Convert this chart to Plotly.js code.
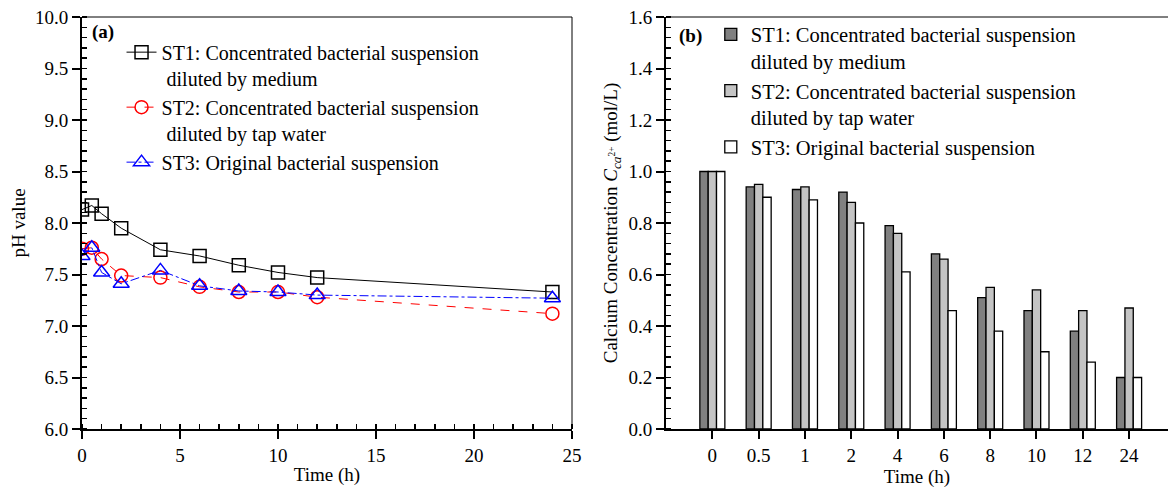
<!DOCTYPE html>
<html>
<head>
<meta charset="utf-8">
<script src="https://cdn.plot.ly/plotly-3.0.1.min.js"></script>
<style>html,body{margin:0;padding:0;background:#fff;}#chart{width:1171px;height:491px;}</style>
</head>
<body>
<div id="chart"></div>
<script>
// ---- Data: panel (a) pH ----
const timeH = [0, 0.5, 1, 2, 4, 6, 8, 10, 12, 24];
const phST1 = [8.13, 8.17, 8.09, 7.95, 7.74, 7.68, 7.59, 7.52, 7.47, 7.33];
const phST2 = [7.75, 7.76, 7.65, 7.49, 7.47, 7.38, 7.33, 7.33, 7.28, 7.12];
const phST3 = [7.68, 7.76, 7.52, 7.41, 7.54, 7.39, 7.34, 7.33, 7.30, 7.27];

// ---- Data: panel (b) calcium concentration ----
const timeCats = ['0', '0.5', '1', '2', '4', '6', '8', '10', '12', '24'];
const caST1 = [1.00, 0.94, 0.93, 0.92, 0.79, 0.68, 0.51, 0.46, 0.38, 0.20];
const caST2 = [1.00, 0.95, 0.94, 0.88, 0.76, 0.66, 0.55, 0.54, 0.46, 0.47];
const caST3 = [1.00, 0.90, 0.89, 0.80, 0.61, 0.46, 0.38, 0.30, 0.26, 0.20];

const names = [
  'ST1: Concentrated bacterial suspension<br>&nbsp;diluted by medium',
  'ST2: Concentrated bacterial suspension<br>&nbsp;diluted by tap water',
  'ST3: Original bacterial suspension'
];
const namesB = [
  'ST1: Concentrated bacterial suspension<br>diluted by medium',
  'ST2: Concentrated bacterial suspension<br>diluted by tap water',
  'ST3: Original bacterial suspension'
];

const FONT = 'Liberation Serif, Times New Roman, serif';

const traces = [
  {x: timeH, y: phST1, name: names[0], type: 'scatter', mode: 'lines+markers', xaxis: 'x', yaxis: 'y',
   line: {color: '#000000', width: 1, dash: 'solid'},
   marker: {symbol: 'square-open', size: 13, color: '#000000', line: {width: 1.5, color: '#000000'}}},
  {x: timeH, y: phST2, name: names[1], type: 'scatter', mode: 'lines+markers', xaxis: 'x', yaxis: 'y',
   line: {color: '#ff0000', width: 1, dash: 'dash'},
   marker: {symbol: 'circle-open', size: 13, color: '#ff0000', line: {width: 1.5, color: '#ff0000'}}},
  {x: timeH, y: phST3, name: names[2], type: 'scatter', mode: 'lines+markers', xaxis: 'x', yaxis: 'y',
   line: {color: '#0000ff', width: 1, dash: 'dashdot'},
   marker: {symbol: 'triangle-up-open', size: 14, color: '#0000ff', line: {width: 1.5, color: '#0000ff'}}},
  {x: timeCats, y: caST1, name: namesB[0], type: 'bar', xaxis: 'x2', yaxis: 'y2', legend: 'legend2',
   marker: {color: '#808080', line: {color: '#000000', width: 1.3}}},
  {x: timeCats, y: caST2, name: namesB[1], type: 'bar', xaxis: 'x2', yaxis: 'y2', legend: 'legend2',
   marker: {color: '#c4c4c4', line: {color: '#000000', width: 1.3}}},
  {x: timeCats, y: caST3, name: namesB[2], type: 'bar', xaxis: 'x2', yaxis: 'y2', legend: 'legend2',
   marker: {color: '#ffffff', line: {color: '#000000', width: 1.3}}}
];

const tickFont = {family: FONT, size: 19, color: '#000'};
const titleFont = {family: FONT, size: 19, color: '#000'};

const layout = {
  width: 1171, height: 491,
  margin: {l: 82, r: 3, t: 17, b: 62},
  paper_bgcolor: '#ffffff', plot_bgcolor: '#ffffff',
  font: {family: FONT, size: 19, color: '#000'},
  barmode: 'group', bargap: 0.46, bargroupgap: 0,
  showlegend: true,
  xaxis: {domain: [0, 0.4512], anchor: 'y', range: [0, 25], dtick: 5, tick0: 0,
    showgrid: false, zeroline: false, showline: true, linecolor: '#000', linewidth: 2,
    ticks: 'outside', ticklen: 8, tickwidth: 2, tickcolor: '#000',
    minor: {dtick: 1, ticks: 'inside', ticklen: 5, tickwidth: 1.5, tickcolor: '#000', showgrid: false},
    tickfont: tickFont, automargin: false,
    title: {text: 'Time (h)', font: titleFont, standoff: 3}},
  yaxis: {domain: [0, 1], anchor: 'x', range: [6, 10], dtick: 0.5, tick0: 6, tickformat: '.1f',
    showgrid: false, zeroline: false, showline: true, linecolor: '#000', linewidth: 2,
    ticks: 'outside', ticklen: 8, tickwidth: 2, tickcolor: '#000',
    minor: {dtick: 0.1, ticks: 'inside', ticklen: 5, tickwidth: 1.5, tickcolor: '#000', showgrid: false},
    tickfont: tickFont, automargin: false,
    title: {text: 'pH value', font: titleFont, standoff: 4}},
  xaxis3: {overlaying: 'x', anchor: 'y', domain: [0, 0.4512], range: [0, 25], dtick: 5, tick0: 0,
    showgrid: false, zeroline: false, showline: false, showticklabels: false,
    ticks: 'inside', ticklen: 8, tickwidth: 2, tickcolor: '#000'},
  yaxis3: {overlaying: 'y', anchor: 'x', range: [6, 10], dtick: 0.5, tick0: 6,
    showgrid: false, zeroline: false, showline: false, showticklabels: false,
    ticks: 'inside', ticklen: 8, tickwidth: 2, tickcolor: '#000'},

  xaxis2: {domain: [0.5378, 1], anchor: 'y2', type: 'category', categoryorder: 'array', categoryarray: timeCats,
    range: [-1, 9.84],
    showgrid: false, zeroline: false, showline: true, linecolor: '#000', linewidth: 2,
    ticks: 'outside', ticklen: 8, tickwidth: 2, tickcolor: '#000',
    tickfont: tickFont, automargin: false,
    title: {text: 'Time (h)', font: titleFont, standoff: 4}},
  yaxis2: {domain: [0, 1], anchor: 'x2', range: [0, 1.6], dtick: 0.2, tick0: 0, tickformat: '.1f',
    showgrid: false, zeroline: false, showline: true, linecolor: '#000', linewidth: 2,
    ticks: 'outside', ticklen: 8, tickwidth: 2, tickcolor: '#000',
    minor: {dtick: 0.04, ticks: 'inside', ticklen: 5, tickwidth: 1.5, tickcolor: '#000', showgrid: false},
    tickfont: tickFont, automargin: false,
    title: {text: 'Calcium Concentration <i>C</i><sub><i>ca</i><sup>2+</sup></sub> (mol/L)', font: titleFont, standoff: 6}},
  xaxis4: {overlaying: 'x2', anchor: 'y2', domain: [0.5378, 1], range: [-1, 9.84],
    tickmode: 'array', tickvals: [0, 1, 2, 3, 4, 5, 6, 7, 8, 9],
    showgrid: false, zeroline: false, showline: false, showticklabels: false,
    ticks: 'inside', ticklen: 8, tickwidth: 2, tickcolor: '#000'},
  yaxis4: {overlaying: 'y2', anchor: 'x2', range: [0, 1.6], dtick: 0.2, tick0: 0,
    showgrid: false, zeroline: false, showline: false, showticklabels: false,
    ticks: 'inside', ticklen: 8, tickwidth: 2, tickcolor: '#000'},

  legend: {x: 0.0364, xanchor: 'left', y: 0.962, yanchor: 'top', xref: 'paper', yref: 'paper',
    bgcolor: 'rgba(0,0,0,0)', borderwidth: 0, valign: 'top',
    font: {family: FONT, size: 20, color: '#000'}},
  legend2: {x: 0.579, xanchor: 'left', y: 1.006, yanchor: 'top', xref: 'paper', yref: 'paper',
    bgcolor: 'rgba(0,0,0,0)', borderwidth: 0, valign: 'top',
    font: {family: FONT, size: 20.5, color: '#000'}},

  annotations: [
    {text: '<b>(a)</b>', xref: 'paper', yref: 'paper', x: 0.0074, y: 0.9636, xanchor: 'left', yanchor: 'middle',
     showarrow: false, font: {family: FONT, size: 19, color: '#000'}},
    {text: '<b>(b)</b>', xref: 'paper', yref: 'paper', x: 0.5480, y: 0.953, xanchor: 'left', yanchor: 'middle',
     showarrow: false, font: {family: FONT, size: 19, color: '#000'}}
  ],
  shapes: [
    {type: 'line', xref: 'x domain', yref: 'y domain', x0: 0, x1: 1, y0: 1, y1: 1, line: {color: '#000', width: 1}},
    {type: 'line', xref: 'x domain', yref: 'y domain', x0: 1, x1: 1, y0: 0, y1: 1, line: {color: '#000', width: 1}},
    {type: 'line', xref: 'x2 domain', yref: 'y2 domain', x0: 0, x1: 1, y0: 1, y1: 1, line: {color: '#000', width: 1}}
  ]
};

Plotly.newPlot('chart', traces, layout, {displayModeBar: false, staticPlot: true});
</script>
</body>
</html>
